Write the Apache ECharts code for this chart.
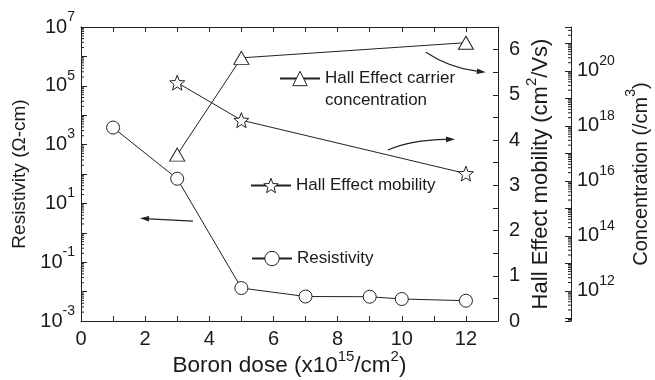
<!DOCTYPE html>
<html>
<head>
<meta charset="utf-8">
<script src="https://cdn.jsdelivr.net/npm/echarts@6/dist/echarts.min.js"></script>
<style>
  html, body { margin: 0; padding: 0; background: #fff; }
  #chart { width: 655px; height: 380px; }
</style>
</head>
<body>
<div id="chart"></div>
<script>
// Boron dose in units of 1e15 /cm^2
const resistivityDose = [1, 3, 5, 7, 9, 10, 12];
// Resistivity, ohm-cm
const resistivity = [3800, 69, 0.0132, 0.0068, 0.0067, 0.0056, 0.0049];
const mobilityDose = [3, 5, 12];
// Hall effect mobility, cm^2/Vs
const mobility = [5.27, 4.44, 3.26];
const concentrationDose = [3, 5, 12];
// Hall effect carrier concentration, /cm^3
const concentration = [9e16, 3e20, 1.07e21];

// Labelled ticks
const doseTickLabels = [0, 2, 4, 6, 8, 10, 12];
const resistivityExponents = [-3, -1, 1, 3, 5, 7];
const mobilityTickLabels = [0, 1, 2, 3, 4, 5, 6];
const concentrationExponents = [12, 14, 16, 18, 20];

const FONT = '"Liberation Sans", Arial, Helvetica, sans-serif';
const INK = '#1a1a1a';
const LINE = '#222';

function richSet(size, supSize) {
  return {
    b: { fontSize: size, lineHeight: 34, fontFamily: FONT, color: INK },
    s: { fontSize: supSize, lineHeight: 14, verticalAlign: 'top', fontFamily: FONT, color: INK }
  };
}
function near(v, list) {
  for (const t of list) if (Math.abs(v - t) < 1e-6) return t;
  return null;
}
function powerLabel(list) {
  return function (v) {
    const e = near(v, list);
    return e === null ? '' : '{b|10}{s|' + e + '}';
  };
}

// Hollow five-pointed star symbol
const starPath = (function () {
  const pts = [];
  for (let i = 0; i < 10; i++) {
    const r = i % 2 === 0 ? 10 : 4.3;
    const a = -Math.PI / 2 + i * Math.PI / 5;
    pts.push((r * Math.cos(a)).toFixed(3) + ' ' + (r * Math.sin(a)).toFixed(3));
  }
  return 'path://M' + pts.join(' L') + ' Z';
})();

// Log-decade minor tick positions (2..9 in every decade)
function logMinorTicks(lo, hi) {
  const out = [];
  for (let n = Math.floor(lo); n <= Math.ceil(hi); n++) {
    for (let k = 2; k <= 9; k++) {
      const v = n + Math.log10(k);
      if (v > lo && v < hi) out.push([0, v]);
    }
  }
  return out;
}

const RES_MIN = -3, RES_MAX = 7;
const CON_MIN = 10.9, CON_MAX = 21.6;
const CON_OFFSET = 73;

const chart = echarts.init(document.getElementById('chart'));

const tickStyle = { show: true, inside: true, length: 5, lineStyle: { color: LINE, width: 1 } };
const axisLine = { show: true, onZero: false, lineStyle: { color: LINE, width: 1 } };
const hollow = { color: '#fff', borderColor: LINE, borderWidth: 1 };
const legendText = { fontSize: 17, color: INK, fontFamily: FONT };
const legendBase = {
  orient: 'vertical', itemWidth: 40, itemHeight: 18, padding: 0,
  textStyle: legendText, selectedMode: false
};

chart.setOption({
  animation: false,
  backgroundColor: '#fff',
  textStyle: { fontFamily: FONT },
  grid: { left: 81, right: 157, top: 27, bottom: 59, containLabel: false, outerBoundsMode: 'none' },
  xAxis: [
    {
      type: 'value', min: 0, max: 13, interval: 1, position: 'bottom',
      axisLine: axisLine, axisTick: tickStyle, splitLine: { show: false },
      axisLabel: {
        margin: 8, fontSize: 20, color: INK, fontFamily: FONT,
        formatter: v => { const t = near(v, doseTickLabels); return t === null ? '' : String(t); }
      },
      name: '{b|Boron dose (x10}{s|15}{b|/cm}{s|2}{b|)}',
      nameLocation: 'middle', nameGap: 28, nameMoveOverlap: false,
      nameTextStyle: { rich: richSet(22.5, 15) }
    },
    {
      type: 'value', min: 0, max: 13, interval: 1, position: 'top',
      axisLine: axisLine, axisTick: tickStyle, axisLabel: { show: false }, splitLine: { show: false }
    }
  ],
  yAxis: [
    {
      type: 'value', min: RES_MIN, max: RES_MAX, interval: 1, position: 'left',
      axisLine: axisLine, axisTick: Object.assign({}, tickStyle, { length: 6 }), splitLine: { show: false },
      axisLabel: { margin: 6, formatter: powerLabel(resistivityExponents), rich: richSet(20, 14) },
      name: 'Resistivity (\u03A9-cm)', nameLocation: 'middle', nameGap: 49, nameMoveOverlap: false,
      nameTextStyle: { fontSize: 19, lineHeight: 24, color: INK, fontFamily: FONT }
    },
    {
      type: 'value', min: 0, max: 6.5, interval: 0.5, position: 'right',
      axisLine: axisLine, axisTick: tickStyle, splitLine: { show: false },
      axisLabel: {
        margin: 11, fontSize: 20, color: INK, fontFamily: FONT,
        formatter: v => { const t = near(v, mobilityTickLabels); return t === null ? '' : String(t); }
      },
      name: '{b|Hall Effect mobility (cm}{s|2}{b|/Vs)}',
      nameLocation: 'middle', nameGap: 26, nameRotate: 90, nameMoveOverlap: false,
      nameTextStyle: { rich: richSet(22, 15) }
    },
    {
      type: 'value', min: CON_MIN, max: CON_MAX, splitNumber: 10, minInterval: 1, maxInterval: 1,
      position: 'right', offset: CON_OFFSET,
      axisLine: axisLine, axisTick: Object.assign({}, tickStyle, { length: 6 }), splitLine: { show: false },
      axisLabel: { margin: 6, formatter: powerLabel(concentrationExponents), rich: richSet(20, 14) },
      name: '{b|Concentration (/cm}{s|3}{b|)}',
      nameLocation: 'middle', nameGap: 53, nameRotate: 90, nameMoveOverlap: false,
      nameTextStyle: { rich: richSet(20, 14) }
    }
  ],
  legend: [
    Object.assign({}, legendBase, {
      data: [{ name: 'Hall Effect carrier concentration', itemStyle: hollow }],
      left: 279, top: 70,
      formatter: () => 'Hall Effect carrier'
    }),
    Object.assign({}, legendBase, {
      data: [{ name: 'Hall Effect mobility', itemStyle: hollow }],
      left: 250, top: 177
    }),
    Object.assign({}, legendBase, {
      data: [{ name: 'Resistivity', itemStyle: hollow }],
      left: 251, top: 250
    })
  ],
  series: [
    {
      name: 'Resistivity', type: 'line', xAxisIndex: 0, yAxisIndex: 0,
      data: resistivityDose.map((d, i) => [d, Math.log10(resistivity[i])]),
      symbol: 'circle', symbolSize: 13,
      lineStyle: { color: LINE, width: 1 },
      itemStyle: hollow
    },
    {
      name: 'Hall Effect mobility', type: 'line', xAxisIndex: 0, yAxisIndex: 1,
      data: mobilityDose.map((d, i) => [d, mobility[i]]),
      symbol: starPath, symbolSize: 15,
      lineStyle: { color: LINE, width: 1 },
      itemStyle: hollow
    },
    {
      name: 'Hall Effect carrier concentration', type: 'line', xAxisIndex: 0, yAxisIndex: 2,
      data: concentrationDose.map((d, i) => [d, Math.log10(concentration[i])]),
      symbol: 'triangle', symbolSize: [15, 13],
      lineStyle: { color: LINE, width: 1 },
      itemStyle: hollow
    },
    {
      // minor log ticks along the resistivity axis
      type: 'custom', xAxisIndex: 0, yAxisIndex: 0, silent: true, clip: false,
      data: logMinorTicks(RES_MIN, RES_MAX),
      renderItem: (params, api) => {
        const y = api.coord([0, api.value(1)])[1];
        const x = params.coordSys.x;
        return { type: 'line', shape: { x1: x, y1: y, x2: x + 3, y2: y }, style: { stroke: LINE, lineWidth: 1 } };
      }
    },
    {
      // minor log ticks along the concentration axis
      type: 'custom', xAxisIndex: 0, yAxisIndex: 2, silent: true, clip: false,
      data: logMinorTicks(CON_MIN, CON_MAX),
      renderItem: (params, api) => {
        const y = api.coord([0, api.value(1)])[1];
        const x = params.coordSys.x + params.coordSys.width + CON_OFFSET;
        return { type: 'line', shape: { x1: x, y1: y, x2: x - 3, y2: y }, style: { stroke: LINE, lineWidth: 1 } };
      }
    }
  ]
});

// Pointer arrows, given in (dose, mobility) coordinates
const arrows = [
  { from: [10.75, 5.94], ctrl: [11.50, 5.59], to: [12.62, 5.50] },
  { from: [9.57, 3.78], ctrl: [10.26, 4.00], to: [11.66, 4.02] },
  { from: [3.49, 2.21], ctrl: null, to: [1.84, 2.27] }
];
const px = p => chart.convertToPixel({ xAxisIndex: 0, yAxisIndex: 1 }, p);
const arrowGraphics = [];
arrows.forEach(a => {
  const p0 = px(a.from), p2 = px(a.to);
  const p1 = a.ctrl ? px(a.ctrl) : [(p0[0] + p2[0]) / 2, (p0[1] + p2[1]) / 2];
  const dx = p2[0] - p1[0], dy = p2[1] - p1[1];
  const len = Math.hypot(dx, dy) || 1;
  const ux = dx / len, uy = dy / len;
  const headLen = 9, headHalf = 2.8;
  const base = [p2[0] - ux * headLen, p2[1] - uy * headLen];
  arrowGraphics.push({
    type: 'bezierCurve', silent: true,
    shape: { x1: p0[0], y1: p0[1], cpx1: p1[0], cpy1: p1[1], x2: base[0], y2: base[1] },
    style: { stroke: LINE, lineWidth: 1.2, fill: null }
  });
  arrowGraphics.push({
    type: 'polygon', silent: true,
    shape: { points: [p2, [base[0] - uy * headHalf, base[1] + ux * headHalf], [base[0] + uy * headHalf, base[1] - ux * headHalf]] },
    style: { fill: LINE }
  });
});
chart.setOption({
  graphic: [
    { type: 'text', left: 325, top: 92, style: { text: 'concentration', font: '17px ' + FONT, fill: INK } }
  ].concat(arrowGraphics)
});
</script>
</body>
</html>
